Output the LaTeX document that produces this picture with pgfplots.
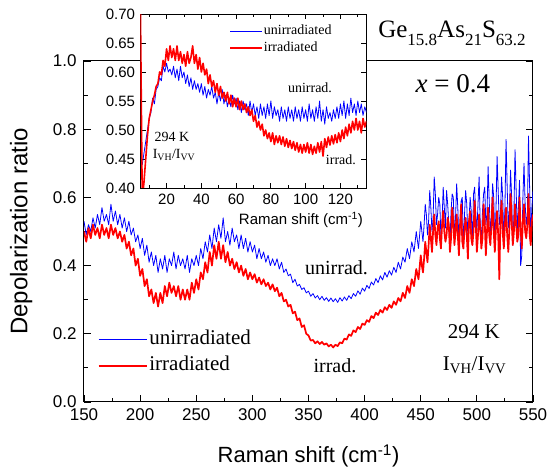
\documentclass[border=0pt]{standalone}
\usepackage{fontspec}
\setmainfont{Liberation Serif}
\newfontfamily\arial{Liberation Sans}
\usepackage{pgfplots}
\pgfplotsset{compat=1.18}
\usepackage{pgfplotstable}

\pgfplotstableread{
x y
150 0.53
152 0.49
154 0.52
156 0.50
158 0.54
160 0.51
162 0.55
164 0.52
166 0.57
168 0.53
170 0.55
172 0.52
174 0.58
176 0.53
178 0.56
180 0.52
182 0.55
184 0.51
186 0.54
188 0.50
190 0.53
192 0.49
194 0.51
196 0.47
198 0.49
200 0.45
202 0.48
204 0.43
206 0.46
208 0.41
210 0.44
212 0.40
214 0.43
216 0.38
218 0.42
220 0.39
222 0.43
224 0.38
226 0.42
228 0.40
230 0.44
232 0.39
234 0.43
236 0.40
238 0.42
240 0.39
242 0.43
244 0.38
246 0.42
248 0.40
250 0.43
252 0.40
254 0.45
256 0.42
258 0.47
260 0.44
262 0.49
264 0.45
266 0.51
268 0.47
270 0.52
272 0.48
274 0.54
276 0.47
278 0.50
280 0.46
282 0.51
284 0.47
286 0.49
288 0.45
290 0.49
292 0.45
294 0.48
296 0.44
298 0.47
300 0.44
302 0.46
304 0.42
306 0.45
308 0.42
310 0.44
312 0.41
314 0.43
316 0.40
318 0.42
320 0.40
322 0.42
324 0.39
326 0.41
328 0.38
330 0.39
332 0.37
334 0.375
336 0.35
338 0.36
340 0.34
342 0.345
344 0.33
346 0.335
348 0.32
350 0.325
352 0.31
354 0.318
356 0.305
358 0.312
360 0.30
362 0.31
364 0.298
366 0.306
368 0.295
370 0.305
372 0.294
374 0.303
376 0.292
378 0.306
380 0.296
382 0.308
384 0.298
386 0.312
388 0.303
390 0.318
392 0.31
394 0.326
396 0.316
398 0.334
400 0.325
402 0.342
404 0.333
406 0.352
408 0.343
410 0.362
412 0.35
414 0.37
416 0.358
418 0.38
420 0.366
422 0.385
424 0.372
426 0.395
428 0.38
430 0.41
432 0.39
434 0.425
436 0.41
438 0.45
440 0.42
442 0.47
444 0.44
446 0.50
448 0.45
450 0.53
451 0.50
452 0.47
453 0.52
454 0.58
455 0.55
456 0.49
457 0.53
458 0.62
459 0.57
460 0.50
461 0.54
462 0.66
463 0.61
464 0.52
465 0.55
466 0.60
467 0.58
468 0.48
469 0.53
470 0.63
471 0.57
472 0.51
473 0.62
474 0.58
475 0.52
476 0.46
477 0.56
478 0.61
479 0.60
480 0.49
481 0.54
482 0.64
483 0.57
484 0.47
485 0.51
486 0.59
487 0.60
488 0.45
489 0.55
490 0.62
491 0.58
492 0.48
493 0.53
494 0.60
495 0.56
496 0.46
497 0.61
498 0.63
499 0.55
500 0.50
501 0.58
502 0.66
503 0.52
504 0.47
505 0.56
506 0.61
507 0.63
508 0.52
509 0.55
510 0.69
511 0.59
512 0.50
513 0.54
514 0.64
515 0.60
516 0.47
517 0.56
518 0.72
519 0.62
520 0.52
521 0.55
522 0.66
523 0.60
524 0.48
525 0.57
526 0.77
527 0.63
528 0.51
529 0.56
530 0.68
531 0.60
532 0.46
533 0.55
534 0.74
535 0.62
536 0.50
537 0.57
538 0.65
539 0.40
540 0.43
541 0.60
542 0.70
543 0.58
544 0.52
545 0.55
546 0.78
547 0.63
548 0.49
549 0.57
550 0.62
}\mainblue

\pgfplotstableread{
x y
150 0.50
152 0.47
154 0.51
156 0.48
158 0.52
160 0.49
162 0.51
164 0.48
166 0.52
168 0.49
170 0.51
172 0.48
174 0.52
176 0.49
178 0.51
180 0.48
182 0.50
184 0.47
186 0.49
188 0.45
190 0.47
192 0.43
194 0.45
196 0.40
198 0.42
200 0.37
202 0.39
204 0.34
206 0.36
208 0.31
210 0.33
212 0.29
214 0.32
216 0.28
218 0.32
220 0.29
222 0.34
224 0.31
226 0.35
228 0.32
230 0.34
232 0.31
234 0.34
236 0.30
238 0.33
240 0.30
242 0.33
244 0.30
246 0.35
248 0.32
250 0.36
252 0.33
254 0.38
256 0.36
258 0.41
260 0.38
262 0.44
264 0.40
266 0.46
268 0.42
270 0.47
272 0.42
274 0.46
276 0.41
278 0.44
280 0.40
282 0.42
284 0.39
286 0.41
288 0.38
290 0.40
292 0.37
294 0.39
296 0.36
298 0.38
300 0.36
302 0.375
304 0.35
306 0.365
308 0.345
310 0.36
312 0.34
314 0.35
316 0.33
318 0.345
320 0.325
322 0.335
324 0.31
326 0.32
328 0.295
330 0.30
332 0.28
334 0.285
336 0.26
338 0.265
340 0.24
342 0.245
344 0.22
346 0.225
348 0.20
350 0.195
352 0.18
354 0.182
356 0.172
358 0.178
360 0.17
362 0.176
364 0.168
366 0.172
368 0.163
370 0.168
372 0.16
374 0.168
376 0.164
378 0.175
380 0.172
382 0.186
384 0.183
386 0.198
388 0.194
390 0.21
392 0.205
394 0.22
396 0.214
398 0.23
400 0.226
402 0.24
404 0.235
406 0.252
408 0.246
410 0.262
412 0.255
414 0.27
416 0.262
418 0.278
420 0.27
422 0.285
424 0.276
426 0.295
428 0.285
430 0.305
432 0.295
434 0.32
436 0.305
438 0.34
440 0.32
442 0.36
444 0.34
446 0.39
448 0.36
450 0.43
451 0.40
452 0.38
453 0.42
454 0.47
455 0.44
456 0.41
457 0.46
458 0.52
459 0.48
460 0.44
461 0.50
462 0.55
463 0.49
464 0.46
465 0.51
466 0.53
467 0.48
468 0.45
469 0.52
470 0.56
471 0.50
472 0.47
473 0.49
474 0.54
475 0.52
476 0.44
477 0.48
478 0.57
479 0.53
480 0.46
481 0.50
482 0.55
483 0.49
484 0.43
485 0.52
486 0.58
487 0.47
488 0.45
489 0.51
490 0.54
491 0.49
492 0.42
493 0.53
494 0.56
495 0.48
496 0.46
497 0.50
498 0.59
499 0.52
500 0.44
501 0.49
502 0.55
503 0.51
504 0.45
505 0.48
506 0.58
507 0.53
508 0.43
509 0.50
510 0.57
511 0.49
512 0.46
513 0.52
514 0.60
515 0.50
516 0.44
517 0.51
518 0.56
519 0.49
520 0.36
521 0.53
522 0.59
523 0.50
524 0.45
525 0.52
526 0.57
527 0.49
528 0.44
529 0.51
530 0.61
531 0.53
532 0.46
533 0.50
534 0.58
535 0.52
536 0.47
537 0.49
538 0.60
539 0.51
540 0.45
541 0.53
542 0.58
543 0.50
544 0.48
545 0.52
546 0.61
547 0.49
548 0.46
549 0.53
550 0.55
}\mainred

\pgfplotstableread{
x y
6 0.44
7 0.46
8 0.48
9 0.50
10 0.52
11 0.53
12 0.555
13 0.545
14 0.57
15 0.575
16 0.59
17 0.585
18 0.61
19 0.60
20 0.615
21 0.60
22 0.605
23 0.595
24 0.61
25 0.59
26 0.605
27 0.585
28 0.61
29 0.59
30 0.60
31 0.58
32 0.595
33 0.575
34 0.59
35 0.57
36 0.585
37 0.57
38 0.58
39 0.565
40 0.58
41 0.56
42 0.575
43 0.555
44 0.57
45 0.56
46 0.575
47 0.555
48 0.565
49 0.545
50 0.565
51 0.55
52 0.57
53 0.545
54 0.56
55 0.54
56 0.555
57 0.54
58 0.56
59 0.545
60 0.555
61 0.535
62 0.55
63 0.53
64 0.55
65 0.535
66 0.545
67 0.525
68 0.55
69 0.53
70 0.545
71 0.525
72 0.54
73 0.52
74 0.545
75 0.525
76 0.54
77 0.52
78 0.545
79 0.525
80 0.55
81 0.52
82 0.54
83 0.525
84 0.535
85 0.515
86 0.54
87 0.52
88 0.535
89 0.515
90 0.54
91 0.52
92 0.535
93 0.515
94 0.54
95 0.52
96 0.535
97 0.515
98 0.54
99 0.52
100 0.535
101 0.515
102 0.545
103 0.52
104 0.535
105 0.515
106 0.54
107 0.52
108 0.55
109 0.515
110 0.535
111 0.51
112 0.54
113 0.52
114 0.53
115 0.515
116 0.535
117 0.52
118 0.54
119 0.52
120 0.545
121 0.525
122 0.55
123 0.52
124 0.545
125 0.525
126 0.555
127 0.53
128 0.545
129 0.525
130 0.55
131 0.53
132 0.545
133 0.525
134 0.54
135 0.53
}\insetblue

\pgfplotstableread{
x y
5 0.70
6 0.38
7 0.41
8 0.45
9 0.49
10 0.52
11 0.535
12 0.55
13 0.56
14 0.575
15 0.58
16 0.60
17 0.595
18 0.62
19 0.61
20 0.64
21 0.62
22 0.645
23 0.625
24 0.64
25 0.62
26 0.645
27 0.62
28 0.635
29 0.615
30 0.63
31 0.61
32 0.635
33 0.615
34 0.625
35 0.645
36 0.615
37 0.63
38 0.605
39 0.625
40 0.60
41 0.615
42 0.595
43 0.605
44 0.58
45 0.595
46 0.575
47 0.585
48 0.565
49 0.58
50 0.56
51 0.575
52 0.555
53 0.565
54 0.55
55 0.565
56 0.545
57 0.56
58 0.54
59 0.555
60 0.54
61 0.555
62 0.535
63 0.55
64 0.535
65 0.545
66 0.53
67 0.54
68 0.525
69 0.535
70 0.515
71 0.525
72 0.505
73 0.515
74 0.50
75 0.51
76 0.49
77 0.50
78 0.485
79 0.495
80 0.48
81 0.495
82 0.475
83 0.49
84 0.478
85 0.49
86 0.475
87 0.488
88 0.472
89 0.485
90 0.47
91 0.482
92 0.468
93 0.48
94 0.465
95 0.478
96 0.462
97 0.475
98 0.46
99 0.475
100 0.462
101 0.478
102 0.46
103 0.475
104 0.458
105 0.472
106 0.46
107 0.478
108 0.462
109 0.48
110 0.455
111 0.485
112 0.47
113 0.488
114 0.474
115 0.49
116 0.476
117 0.492
118 0.478
119 0.495
120 0.48
121 0.50
122 0.485
123 0.505
124 0.49
125 0.51
126 0.495
127 0.515
128 0.50
129 0.52
130 0.50
131 0.515
132 0.495
133 0.52
134 0.505
135 0.515
}\insetred

\definecolor{pblue}{RGB}{0,0,255}
\definecolor{pred}{RGB}{255,0,0}

\begin{document}
\begin{tikzpicture}
\path[use as bounding box] (0,0) rectangle (550pt,469pt);
\begin{axis}[
  at={(84pt,67pt)}, anchor=south west,
  scale only axis, width=449pt, height=341pt,
  xmin=150, xmax=550, ymin=0, ymax=1,
  clip=true,
  xtick={150,200,250,300,350,400,450,500,550},
  minor xtick={175,225,275,325,375,425,475,525},
  ytick={0,0.2,0.4,0.6,0.8,1.0},
  minor ytick={0.1,0.3,0.5,0.7,0.9},
  xtick pos=bottom, ytick pos=both,
  tick align=inside,
  major tick length=7pt, minor tick length=4pt,
  every tick/.style={black, line width=0.9pt},
  axis line style={black, line width=1pt},
  /pgf/number format/assume math mode=true,
  tick label style={font=\arial\fontsize{17}{17}\selectfont},
  xticklabel style={yshift=-3pt},
  yticklabel style={xshift=-4pt, /pgf/number format/fixed, /pgf/number format/fixed zerofill, /pgf/number format/precision=1},
  xlabel={Raman shift (cm\textsuperscript{-1})},
  ylabel={Depolarization ratio},
  xlabel style={font=\arial\fontsize{22}{24}\selectfont, at={(axis description cs:0.5,0)}, anchor=center, yshift=-54pt},
  ylabel style={font=\arial\fontsize{24}{26}\selectfont, at={(axis description cs:-0.14,0.5)}, anchor=center},
  legend style={at={(rel axis cs:0.03,0.215)}, anchor=north west, draw=none, fill=none,
    font=\fontsize{21}{24}\selectfont, inner sep=0pt, row sep=4pt,
    nodes={inner sep=2pt, text height=14pt, text depth=4pt}},
  legend cell align=left,
  legend image code/.code={\draw[#1] (0pt,0pt) -- (48pt,0pt);},
]
\addplot[pblue, line width=0.8pt, line join=round] table[x=x,y=y] {\mainblue};
\addlegendentry{unirradiated}
\addplot[pred, line width=1.7pt, line join=round] table[x=x,y=y] {\mainred};
\addlegendentry{irradiated}

\node[font=\fontsize{20}{22}\selectfont] at (axis cs:375,0.393) {unirrad.};
\node[font=\fontsize{20}{22}\selectfont] at (axis cs:373.6,0.106) {irrad.};
\node[font=\fontsize{21}{24}\selectfont] at (axis cs:497.4,0.205) {294 K};
\node[font=\fontsize{21}{24}\selectfont] at (axis cs:498,0.109) {I\textsubscript{VH}/I\textsubscript{VV}};
\node[font=\fontsize{27}{30}\selectfont] at (axis cs:478.7,0.933) {\textit{x} = 0.4};
\end{axis}

\node[font=\fontsize{25}{28}\selectfont, anchor=base] at (452pt,431pt)
  {Ge\raisebox{-0.3em}{\fontsize{17}{17}\selectfont 15.8}As\raisebox{-0.3em}{\fontsize{17}{17}\selectfont 21}S\raisebox{-0.3em}{\fontsize{17}{17}\selectfont 63.2}};

\begin{axis}[
  at={(140.5pt,281pt)}, anchor=south west,
  scale only axis, width=226pt, height=174pt,
  xmin=5, xmax=135, ymin=0.4, ymax=0.7,
  axis background/.style={fill=white},
  xtick={20,40,60,80,100,120},
  minor xtick={10,30,50,70,90,110,130},
  ytick={0.40,0.45,0.50,0.55,0.60,0.65,0.70},
  xtick pos=both, ytick pos=both,
  tick align=inside,
  major tick length=5pt, minor tick length=3pt,
  every tick/.style={black, line width=0.8pt},
  axis line style={black, line width=0.9pt},
  /pgf/number format/assume math mode=true,
  tick label style={font=\arial\fontsize{15}{15}\selectfont},
  xticklabel style={yshift=-2pt},
  yticklabel style={xshift=-2pt, /pgf/number format/fixed, /pgf/number format/fixed zerofill, /pgf/number format/precision=2},
  xlabel={Raman shift (cm\textsuperscript{-1})},
  xlabel style={font=\arial\fontsize{15}{17}\selectfont, at={(axis description cs:0.71,0)}, anchor=center, yshift=-32pt},
  legend style={at={(rel axis cs:0.392,0.945)}, anchor=north west, draw=none, fill=none,
    font=\fontsize{14}{16}\selectfont, inner sep=0pt, row sep=2pt,
    nodes={inner sep=1pt, text height=10pt, text depth=3pt}},
  legend cell align=left,
  legend image code/.code={\draw[#1] (0pt,0pt) -- (32pt,0pt);},
]
\addplot[pblue, line width=0.8pt, line join=round] table[x=x,y=y] {\insetblue};
\addlegendentry{unirradiated}
\addplot[pred, line width=1.6pt, line join=round] table[x=x,y=y] {\insetred};
\addlegendentry{irradiated}

\node[font=\fontsize{14}{16}\selectfont] at (axis cs:102.5,0.572) {unirrad.};
\node[font=\fontsize{14}{16}\selectfont] at (axis cs:120.3,0.448) {irrad.};
\node[font=\fontsize{14}{16}\selectfont] at (axis cs:23.1,0.488) {294 K};
\node[font=\fontsize{14}{16}\selectfont] at (axis cs:24.3,0.457) {I\textsubscript{VH}/I\textsubscript{VV}};
\end{axis}
\end{tikzpicture}
\end{document}
